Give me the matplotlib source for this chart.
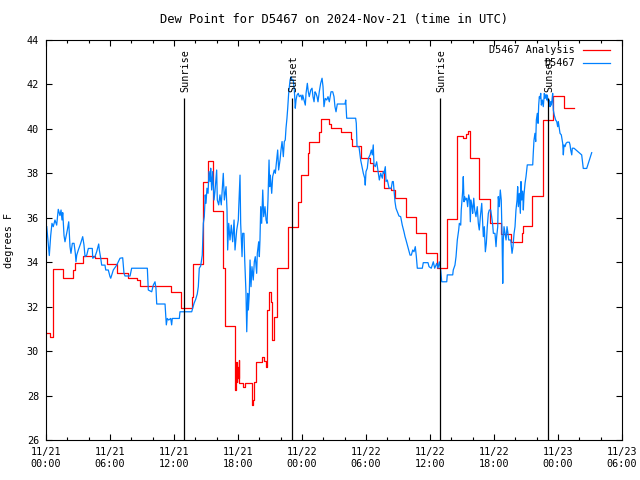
import matplotlib
matplotlib.use("Agg")
import matplotlib.pyplot as plt
from matplotlib.ticker import MultipleLocator

title = "Dew Point for D5467 on 2024-Nov-21 (time in UTC)"

# time axis: hours after 2024-11-21 00:00 UTC
analysis_hours = [0.0, 0.37, 0.61, 0.70, 1.62, 2.50, 2.72, 3.47, 4.59, 5.69, 6.68, 7.72,
                  8.50, 8.81, 11.69, 12.66, 13.66, 13.81, 14.69, 14.75, 15.19, 15.63,
                  16.62, 16.78, 17.72, 17.77, 17.86, 17.94, 18.00, 18.08, 18.13, 18.43,
                  18.66, 19.28, 19.40, 19.53, 19.69, 20.25, 20.44, 20.63, 20.69, 20.94,
                  21.06, 21.19, 21.40, 21.63, 22.66, 23.59, 23.90, 24.53, 24.66, 25.62,
                  25.78, 26.56, 26.72, 27.63, 28.62, 28.71, 29.50, 30.37, 30.68, 31.69,
                  32.37, 32.69, 33.72, 34.66, 35.60, 36.63, 37.57, 38.50, 38.56, 39.12,
                  39.42, 39.53, 39.75, 40.62, 41.62, 42.63, 43.59, 44.59, 44.75, 45.59,
                  46.62, 47.56, 48.59, 49.53]
analysis_temp = [30.8, 30.65, 32.2, 33.7, 33.3, 33.65, 33.95, 34.3, 34.2, 33.9, 33.5, 33.3,
                 33.2, 32.95, 32.64, 31.92, 32.45, 33.9, 35.75, 37.6, 38.57, 36.3,
                 33.73, 31.13, 28.25, 29.5, 28.6, 29.3, 28.8, 29.6, 28.56, 28.4,
                 28.56, 27.57, 27.8, 28.63, 29.52, 29.75, 29.55, 29.3, 31.85, 32.67,
                 32.2, 30.5, 31.55, 33.73, 35.6, 36.72, 37.92, 38.9, 39.43, 39.87,
                 40.43, 40.22, 40.03, 39.85, 39.53, 39.23, 38.67, 38.45, 38.1, 37.35,
                 37.25, 36.87, 36.05, 35.33, 34.4, 33.73, 35.94, 38.7, 39.68, 39.57,
                 39.75, 39.9, 38.67, 36.85, 35.75, 35.25, 34.9, 35.3, 35.63, 37.0,
                 40.4, 41.5, 40.93, 40.93]

obs_hours = [0.07, 0.31, 0.44, 0.56, 0.68, 0.84, 1.00, 1.15, 1.31, 1.41, 1.50, 1.57, 1.69,
             1.78, 1.88, 2.00, 2.13, 2.25, 2.34, 2.47, 2.63, 2.75, 2.81, 2.88, 3.03, 3.25,
             3.44, 3.56, 3.66, 3.82, 3.97, 4.34, 4.38, 4.59, 4.75, 4.94, 5.00, 5.13, 5.22,
             5.53, 5.60, 5.84, 6.00, 6.07, 6.31, 6.63, 6.94, 7.19, 7.31, 7.41, 7.88, 8.03,
             9.50, 9.59, 9.91, 10.06, 10.22, 10.31, 10.38, 11.16, 11.22, 11.28, 11.37,
             11.50, 11.69, 11.78, 11.84, 12.50, 12.56, 13.66, 13.75, 13.88, 14.03, 14.18,
             14.28, 14.37, 14.50, 14.65, 14.75, 14.84, 14.93, 15.00, 15.09, 15.19, 15.28,
             15.38, 15.44, 15.53, 15.63, 15.75, 15.84, 16.00, 16.06, 16.19, 16.31, 16.43,
             16.62, 16.72, 16.88, 16.97, 17.03, 17.13, 17.25, 17.37, 17.50, 17.63, 17.72,
             17.88, 18.03, 18.06, 18.19, 18.25, 18.31, 18.38, 18.44, 18.56, 18.63, 18.75,
             18.82, 18.91, 18.97, 19.06, 19.13, 19.22, 19.31, 19.43, 19.53, 19.62, 19.75,
             19.81, 19.94, 20.00, 20.06, 20.13, 20.22, 20.32, 20.41, 20.53, 20.63, 20.72,
             20.81, 20.91, 20.97, 21.03, 21.16, 21.25, 21.40, 21.50, 21.63, 21.72, 21.81,
             21.94, 22.03, 22.13, 22.25, 22.34, 22.43, 22.50, 22.59, 22.66, 22.75, 22.88,
             22.97, 23.06, 23.18, 23.28, 23.37, 23.44, 23.53, 23.65, 23.75, 23.91, 24.00,
             24.07, 24.19, 24.31, 24.38, 24.50, 24.59, 24.68, 24.82, 24.94, 25.03, 25.13,
             25.22, 25.31, 25.41, 25.50, 25.62, 25.75, 25.88, 25.97, 26.06, 26.18, 26.32,
             26.44, 26.56, 26.72, 26.88, 27.00, 27.09, 27.19, 27.31, 28.03, 28.10, 28.19,
             29.03, 29.09, 29.16, 29.34, 29.44, 29.50, 29.63, 29.75, 29.88, 29.93, 30.00,
             30.12, 30.22, 30.38, 30.50, 30.59, 30.68, 30.75, 30.87, 31.00, 31.13, 31.25,
             31.38, 31.53, 31.62, 31.69, 31.81, 31.88, 32.00, 32.16, 32.37, 32.47, 32.56,
             32.63, 32.72, 32.81, 32.93, 33.09, 33.25, 33.40, 33.56, 33.66, 33.75, 33.87,
             34.00, 34.13, 34.25, 34.38, 34.50, 34.62, 34.72, 34.81, 35.28, 35.37, 35.81,
             35.91, 36.12, 36.31, 36.44, 36.63, 36.75, 36.87, 37.00, 37.10, 37.57, 37.62,
             38.13, 38.18, 38.34, 38.44, 38.56, 38.69, 38.75, 38.88, 38.93, 39.06, 39.12,
             39.19, 39.25, 39.35, 39.44, 39.53, 39.63, 39.72, 39.78, 39.84, 39.94, 40.00,
             40.10, 40.19, 40.31, 40.43, 40.53, 40.62, 40.72, 40.85, 40.94, 41.00, 41.09,
             41.19, 41.28, 41.37, 41.47, 41.56, 41.69, 41.78, 41.88, 41.94, 42.09, 42.19,
             42.25, 42.35, 42.40, 42.50, 42.59, 42.68, 42.75, 42.82, 42.87, 42.94, 43.03,
             43.13, 43.22, 43.31, 43.38, 43.57, 43.69, 43.78, 43.88, 43.97, 44.06, 44.16,
             44.22, 44.28, 44.37, 44.47, 44.53, 44.60, 44.69, 44.75, 44.81, 44.91, 45.00,
             45.12, 45.63, 45.68, 45.75, 45.84, 45.91, 45.97, 46.06, 46.13, 46.19, 46.25,
             46.31, 46.38, 46.44, 46.53, 46.62, 46.72, 46.78, 46.88, 46.94, 47.00, 47.06,
             47.13, 47.19, 47.25, 47.32, 47.37, 47.44, 47.50, 47.56, 47.65, 47.78, 47.88,
             47.97, 48.03, 48.12, 48.19, 48.31, 48.44, 48.50, 48.56, 48.66, 48.75, 48.87,
             49.06, 49.13, 49.19, 49.29, 49.34, 49.50, 50.22, 50.37, 50.69, 51.16]
obs_temp = [35.6, 34.3, 35.2, 35.75, 35.6, 35.9, 35.67, 36.38, 36.1, 36.35, 35.9, 36.23, 35.2,
            34.92, 35.15, 35.45, 35.82, 34.7, 34.4, 34.85, 34.85, 34.4, 34.02, 34.32, 34.55, 34.85,
            35.15, 34.78, 34.25, 34.32, 34.62, 34.62, 34.18, 34.25, 34.47, 34.82, 34.55, 34.18, 33.87,
            33.87, 33.65, 33.65, 33.35, 33.28, 33.65, 33.87, 34.18, 34.2, 33.5, 33.38, 33.38, 33.73,
            33.73, 32.75, 32.67, 32.97, 33.12, 32.82, 32.12, 32.12, 31.63, 31.18, 31.47,
            31.4, 31.47, 31.18, 31.47, 31.47, 31.77, 31.77, 31.92, 32.15, 32.33, 32.57,
            32.9, 33.73, 33.83, 34.32, 35.75, 36.05, 37.03, 36.65, 37.33, 37.1, 38.08,
            37.63, 38.23, 37.25, 38.08, 36.8, 37.18, 38.15, 36.8, 36.58, 37.03, 36.58,
            38.0, 36.8, 37.4, 36.35, 34.55, 35.75, 35.0, 35.67, 34.92, 35.9, 34.55,
            35.45, 35.9, 36.35, 37.92, 35.75, 35.0, 34.25, 35.3, 35.3, 34.1, 32.6,
            30.87, 32.6, 31.85, 32.6, 34.1, 32.9, 33.8, 33.2, 34.02, 34.25, 33.5,
            34.4, 34.92, 34.25, 35.0, 36.5, 35.75, 37.25, 36.05, 36.5, 35.9, 35.75,
            36.8, 38.6, 37.4, 37.92, 37.1, 37.85, 38.15, 38.0, 38.6, 39.05, 38.15,
            38.6, 39.05, 39.43, 38.75, 39.43, 39.5, 40.03, 40.48, 40.93, 41.6, 42.2,
            42.35, 42.2, 42.2, 41.75, 40.93, 41.3, 41.52, 41.6, 41.45, 41.52, 41.3,
            41.52, 41.3, 41.07, 41.6, 42.05, 41.67, 41.45, 41.75, 41.83, 41.45, 41.22,
            41.67, 41.6, 41.45, 41.22, 41.67, 42.05, 42.28, 41.9, 41.0, 41.37, 41.3,
            41.45, 41.22, 41.67, 41.67, 41.45, 41.0, 40.77, 41.12, 41.12, 41.3, 40.48,
            40.48, 40.25, 39.2, 39.2, 38.83, 38.6, 38.3, 38.0, 37.78, 37.47, 38.08,
            38.23, 38.67, 38.83, 39.05, 38.83, 39.28, 38.38, 38.3, 38.52, 38.08, 37.7,
            38.0, 37.78, 38.08, 38.0, 38.3, 37.63, 37.7, 37.33, 37.33, 37.63, 37.63,
            37.25, 36.72, 36.43, 36.28, 36.08, 36.05, 35.67, 35.37, 35.15, 35.0, 34.78,
            34.55, 34.32, 34.32, 34.55, 34.47, 34.7, 34.25, 33.73, 33.73, 33.98, 33.98,
            33.8, 33.73, 34.02, 33.73, 33.95, 33.73, 34.02, 33.65, 33.12, 33.12, 33.43,
            33.43, 33.65, 33.87, 34.25, 35.0, 35.45, 35.75, 35.67, 36.35, 37.18, 37.85,
            36.72, 36.95, 36.8, 36.88, 36.5, 37.03, 36.8, 35.82, 36.8, 36.5, 36.2,
            36.88, 36.35, 36.05, 36.5, 35.75, 35.45, 36.05, 36.65, 35.75, 35.15, 35.6,
            34.47, 34.85, 35.6, 36.2, 36.35, 36.35, 36.05, 35.67, 35.3, 35.3, 34.7,
            35.15, 35.6, 36.95, 36.5, 37.25, 36.8, 35.3, 33.05, 35.0, 35.6, 35.3,
            35.0, 35.6, 35.3, 35.0, 35.0, 34.4, 34.7, 35.3, 35.6, 36.35, 36.8,
            37.4, 36.5, 37.1, 36.2, 37.63, 36.8, 37.2, 36.35, 37.03, 37.55, 37.85,
            38.38, 38.38, 38.9, 39.5, 39.8, 39.43, 40.4, 40.7, 40.25, 41.07, 41.45,
            41.37, 41.6, 41.07, 41.3, 41.0, 41.6, 41.37, 41.55, 41.3, 41.52, 41.28,
            41.15, 41.3, 41.0, 41.22, 41.07, 41.3, 41.6, 40.85, 40.62, 40.4, 40.33,
            40.1, 40.33, 40.03, 39.8, 39.73, 39.35, 38.83, 39.28, 39.2, 39.35, 39.4,
            39.4, 39.28, 39.05, 38.83, 39.13, 39.13, 38.83, 38.22, 38.22, 38.93]

sun_hours = [12.94, 23.06, 36.94, 47.06]
sun_labels = ["Sunrise", "Sunset", "Sunrise", "Sunset"]
sun_line_top = 41.39

tick_hours = [0, 6, 12, 18, 24, 30, 36, 42, 48, 54]
tick_labels = ["11/21\n00:00", "11/21\n06:00", "11/21\n12:00", "11/21\n18:00",
               "11/22\n00:00", "11/22\n06:00", "11/22\n12:00", "11/22\n18:00",
               "11/23\n00:00", "11/23\n06:00"]

plt.rcParams['font.family'] = ['DejaVu Sans Mono']
plt.rcParams['font.size'] = 7.3

fig = plt.figure(figsize=(6.4, 4.8), dpi=100)
ax = fig.add_axes([46 / 640, 40 / 480, 576 / 640, 400 / 480])

ax.plot(analysis_hours, analysis_temp, color="#ff0000", lw=0.9, drawstyle="steps-post")
ax.plot(obs_hours, obs_temp, color="#0080ff", lw=0.9)

ax.vlines(sun_hours, 26, sun_line_top, color="black", lw=0.9)
for h, lab in zip(sun_hours, sun_labels):
    ax.text(h + 0.1, sun_line_top + 0.27, lab, rotation=90, ha="center", va="bottom")

ax.set_xlim(0, 54)
ax.set_ylim(26, 44)
ax.set_xticks(tick_hours)
ax.set_xticklabels(tick_labels)
ax.xaxis.set_minor_locator(MultipleLocator(2))
ax.set_yticks(range(26, 45, 2))

ax.tick_params(which="both", direction="in", top=True, right=True, width=0.8)
ax.tick_params(which="major", length=4.5)
ax.tick_params(which="minor", length=2.3)
ax.tick_params(axis="x", pad=5)
ax.tick_params(axis="y", pad=5)
for s in ax.spines.values():
    s.set_linewidth(0.8)

ax.set_ylabel("degrees F")
ax.yaxis.set_label_coords(-0.055, 0.5)
ax.set_title(title, pad=12)

# legend, gnuplot style: right-aligned text followed by sample line
legend_rows = [("D5467 Analysis", "#ff0000"), ("D5467", "#0080ff")]
for i, (name, col) in enumerate(legend_rows):
    yy = 0.975 - i * 0.0325
    ax.text(0.918, yy, name, transform=ax.transAxes, ha="right", va="center")
    ax.plot([0.932, 0.979], [yy, yy], transform=ax.transAxes, color=col, lw=0.9)

fig.savefig("out.png", dpi=100)
